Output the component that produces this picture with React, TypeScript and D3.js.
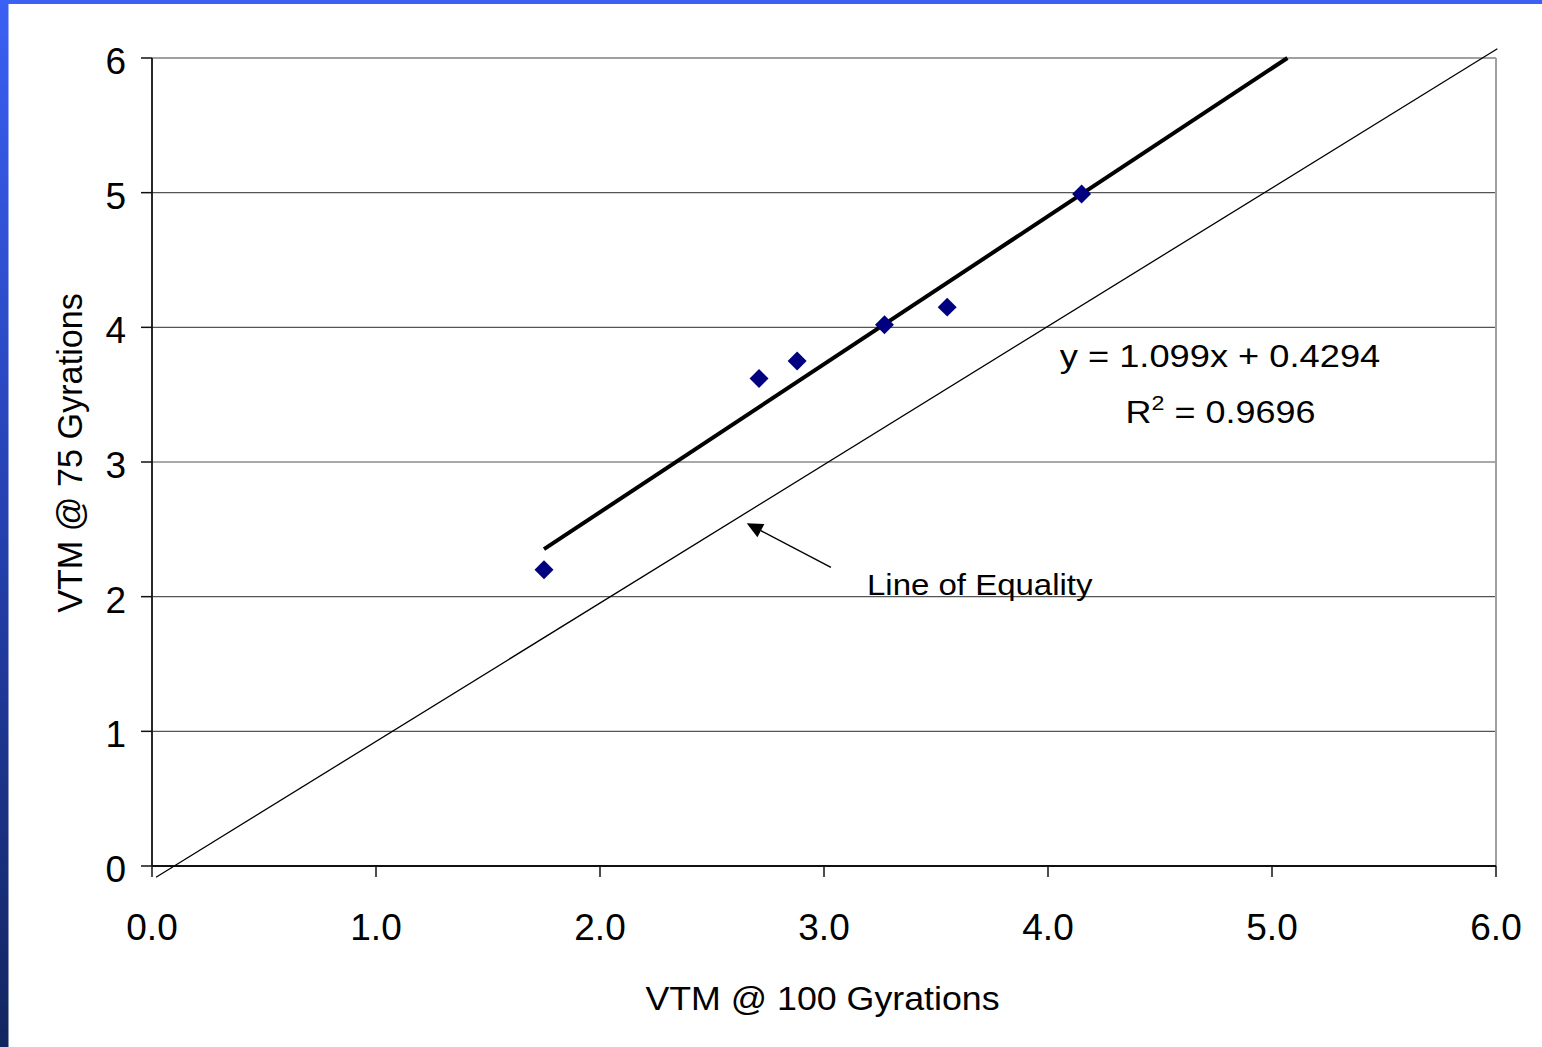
import React from "react";
import * as d3 from "d3";

// ---- data ----
const xVals = [1.75, 2.71, 2.88, 3.27, 3.55, 4.15];
const yVals = [2.2, 3.62, 3.75, 4.02, 4.15, 4.99];
const xTicks = [0, 1, 2, 3, 4, 5, 6];
const yTicks = [0, 1, 2, 3, 4, 5, 6];
const trendSlope = 1.099;
const trendIntercept = 0.4294;
const equalityLine = [
  [0.018, -0.084],
  [6.006, 6.069],
];
const arrowFrom = [3.031, 2.218];
const arrowTo = [2.655, 2.545];
const xTitle = "VTM @ 100 Gyrations";
const yTitle = "VTM @ 75 Gyrations";
const eqText = "y = 1.099x + 0.4294";
const r2Value = " = 0.9696";
const equalityLabel = "Line of Equality";

const W = 1542;
const H = 1047;

export default function App() {
  const x = d3.scaleLinear().domain([0, 6]).range([152, 1496]);
  const y = d3.scaleLinear().domain([0, 6]).range([866, 58]);
  const font = "Arial, 'Liberation Sans', sans-serif";

  const xStart = d3.min(xVals) as number;
  const xEnd = (6 - trendIntercept) / trendSlope;
  const trendPath = d3.line()([
    [x(xStart), y(trendSlope * xStart + trendIntercept)],
    [x(xEnd), y(trendSlope * xEnd + trendIntercept)],
  ]);
  const eqPath = d3.line()(equalityLine.map((p) => [x(p[0]), y(p[1])] as [number, number]));

  const diamond = d3.symbol().type(d3.symbolSquare).size(180)();

  // arrow
  const ax1 = x(arrowFrom[0]), ay1 = y(arrowFrom[1]);
  const ax2 = x(arrowTo[0]), ay2 = y(arrowTo[1]);
  const ang = Math.atan2(ay2 - ay1, ax2 - ax1);
  const headLen = 16, headW = 7.5;
  const bx = ax2 - headLen * Math.cos(ang), by = ay2 - headLen * Math.sin(ang);
  const head = [
    [ax2, ay2],
    [bx + headW * Math.sin(ang), by - headW * Math.cos(ang)],
    [bx - headW * Math.sin(ang), by + headW * Math.cos(ang)],
  ];

  return (
    <div style={{ position: "absolute", left: 0, top: 0 }}>
      <svg width={W} height={H} style={{ display: "block" }}>
        <defs>
          <linearGradient id="leftBand" x1="0" y1="0" x2="0" y2="1">
            <stop offset="0" stopColor="#3a60f4" />
            <stop offset="0.5" stopColor="#2540b0" />
            <stop offset="1" stopColor="#13255f" />
          </linearGradient>
        </defs>
        <rect x={0} y={0} width={W} height={H} fill="#ffffff" />
        <rect x={0} y={0} width={W} height={4} fill="#3a60f4" />
        <rect x={0} y={0} width={8.5} height={H} fill="url(#leftBand)" />

        {/* gridlines */}
        {yTicks.filter((t) => t > 0 && t < 6).map((t) => (
          <line key={"g" + t} x1={x(0)} x2={x(6)} y1={y(t)} y2={y(t)} stroke="#555" strokeWidth={1.2} />
        ))}
        {/* frame top/right */}
        <line x1={x(0)} x2={x(6)} y1={y(6)} y2={y(6)} stroke="#a0a0a0" strokeWidth={2} />
        <line x1={x(6)} x2={x(6)} y1={y(6)} y2={y(0)} stroke="#a0a0a0" strokeWidth={2} />
        {/* axes */}
        <line x1={x(0)} x2={x(6)} y1={y(0)} y2={y(0)} stroke="#111" strokeWidth={1.8} />
        <line x1={x(0)} x2={x(0)} y1={y(6)} y2={y(0)} stroke="#111" strokeWidth={1.8} />
        {yTicks.map((t) => (
          <g key={"yt" + t}>
            <line x1={x(0) - 11} x2={x(0)} y1={y(t)} y2={y(t)} stroke="#111" strokeWidth={1.5} />
            <text x={126} y={y(t) + 16} textAnchor="end" fontSize={37} fontFamily={font} fill="#000">
              {d3.format("d")(t)}
            </text>
          </g>
        ))}
        {xTicks.map((t) => (
          <g key={"xt" + t}>
            <line x1={x(t)} x2={x(t)} y1={y(0)} y2={y(0) + 11} stroke="#111" strokeWidth={1.5} />
            <text x={x(t)} y={940} textAnchor="middle" fontSize={37} fontFamily={font} fill="#000">
              {d3.format(".1f")(t)}
            </text>
          </g>
        ))}

        {/* line of equality */}
        <path d={eqPath || ""} stroke="#000" strokeWidth={1.3} fill="none" />
        {/* trendline */}
        <path d={trendPath || ""} stroke="#000" strokeWidth={4} fill="none" />

        {/* points */}
        {xVals.map((v, i) => (
          <path
            key={"p" + i}
            d={diamond || ""}
            transform={`translate(${x(v)},${y(yVals[i])}) rotate(45)`}
            fill="#000080"
          />
        ))}

        {/* arrow */}
        <line x1={ax1} y1={ay1} x2={bx} y2={by} stroke="#000" strokeWidth={1.5} />
        <polygon points={head.map((p) => p.join(",")).join(" ")} fill="#000" />

        {/* annotations */}
        <g transform="translate(1220,367) scale(1.17,1)">
          <text x={0} y={0} textAnchor="middle" fontSize={31} fontFamily={font} fill="#000">
            {eqText}
          </text>
        </g>
        <g transform="translate(1220.5,423) scale(1.16,1)">
          <text x={0} y={0} textAnchor="middle" fontSize={31} fontFamily={font} fill="#000">
            R<tspan fontSize={20} dy={-13}>2</tspan>
            <tspan dy={13}>{r2Value}</tspan>
          </text>
        </g>
        <g transform="translate(867,594.5) scale(1.1,1)">
          <text x={0} y={0} textAnchor="start" fontSize={30} fontFamily={font} fill="#000">
            {equalityLabel}
          </text>
        </g>

        {/* axis titles */}
        <g transform="translate(822.5,1010) scale(1.1,1)">
          <text x={0} y={0} textAnchor="middle" fontSize={32.5} fontFamily={font} fill="#000">
            {xTitle}
          </text>
        </g>
        <text
          transform="translate(81.5,453) rotate(-90)"
          textAnchor="middle"
          fontSize={34.2}
          fontFamily={font}
          fill="#000"
        >
          {yTitle}
        </text>
      </svg>
    </div>
  );
}
